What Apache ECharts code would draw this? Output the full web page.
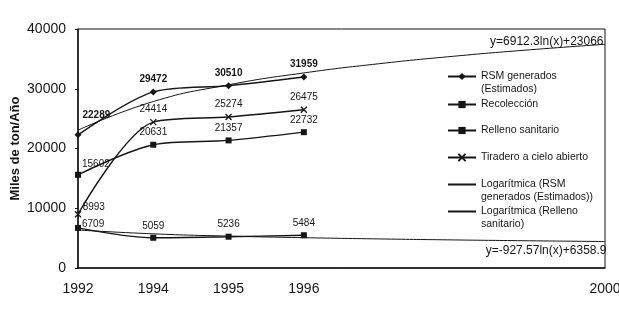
<!DOCTYPE html>
<html>
<head>
<meta charset="utf-8">
<script src="https://cdn.jsdelivr.net/npm/echarts@6/dist/echarts.min.js"></script>
<style>
html,body{margin:0;padding:0;background:#fff;}
#chart{width:619px;height:310px;}
</style>
</head>
<body>
<div id="chart"></div>
<script>
// ---- data ----
const xIndex = [1, 2, 3, 4];
const tickPos = [1, 2, 3, 4, 8];
const tickLabels = ['1992', '1994', '1995', '1996', '2000'];
const seriesNames = ['RSM generados (Estimados)', 'Recolección', 'Relleno sanitario', 'Tiradero a cielo abierto',
  'Logarítmica (RSM generados (Estimados))', 'Logarítmica (Relleno sanitario)'];
const legendLabels = ['RSM generados\n(Estimados)', 'Recolección', 'Relleno sanitario', 'Tiradero a cielo abierto',
  'Logarítmica (RSM\ngenerados (Estimados))', 'Logarítmica (Relleno\nsanitario)'];
const rsm = [22289, 29472, 30510, 31959];
const recoleccion = [15602, 20631, 21357, 22732];
const relleno = [6709, 5059, 5236, 5484];
const tiradero = [8993, 24414, 25274, 26475];
const trendX = [1, 2, 3, 4, 5, 6, 7, 8];
const trendRsm = [23066, 27857, 30660, 32648, 34191, 35451, 36517, 37440];
const trendRelleno = [6359, 5716, 5340, 5073, 4866, 4697, 4554, 4430];
const eqRsm = 'y=6912.3ln(x)+23066';
const eqRelleno = 'y=-927.57ln(x)+6358.9';

const FONT = '"Liberation Sans", Arial, sans-serif';
const INK = '#151515';

function pts(xs, ys, firstOffset) {
  return xs.map((x, i) => {
    const item = { value: [x, ys[i]] };
    if (i === 0) item.label = { position: 'right', distance: 1, offset: firstOffset };
    return item;
  });
}

function dataSeries(name, vals, symbol, size, firstOffset, bold) {
  return {
    name: name, type: 'line', smooth: 0.3,
    data: pts(xIndex, vals, firstOffset),
    symbol: symbol, symbolSize: size,
    lineStyle: { color: INK, width: 1.4 },
    itemStyle: { color: INK, borderColor: INK, borderWidth: symbol.startsWith('path') ? 1.3 : 0 },
    label: { show: true, position: 'top', distance: 4, color: INK, fontFamily: FONT, fontSize: 10,
      fontWeight: bold ? 'bold' : 'normal' },
    emphasis: { disabled: true }, z: 3
  };
}

function trendSeries(name, vals, eq, eqLabel) {
  const n = vals.length - 1;
  return {
    name: name, type: 'line', smooth: 0.5, symbol: 'none',
    data: trendX.map((x, i) => [x, vals[i]]),
    lineStyle: { color: INK, width: 1 },
    itemStyle: { color: INK },
    markPoint: {
      symbol: 'circle', symbolSize: 1, itemStyle: { color: 'rgba(0,0,0,0)' },
      label: Object.assign({ show: true, formatter: eq, color: INK, fontFamily: FONT, fontSize: 12, align: 'right' }, eqLabel),
      data: [{ coord: [trendX[n], vals[n]] }]
    },
    emphasis: { disabled: true }, z: 2
  };
}

const legendTops = [57, 98, 124, 151, 165, 192];
const legends = seriesNames.map((nm, i) => {
  const two = legendLabels[i].indexOf('\n') >= 0;
  const isTrend = i >= 4;
  const lg = {
    data: [nm], left: 447, top: legendTops[i], orient: 'vertical',
    itemWidth: 28, itemHeight: 9, selectedMode: false, padding: 0,
    formatter: () => (two ? '\n' : '') + legendLabels[i],
    textStyle: { color: INK, fontFamily: FONT, fontSize: 10.5, lineHeight: 13 }
  };
  if (isTrend) lg.itemStyle = { opacity: 0 };
  return lg;
});

const chart = echarts.init(document.getElementById('chart'), null, { renderer: 'canvas' });
chart.setOption({
  backgroundColor: '#fff',
  animation: false,
  grid: { left: 78, right: 14, top: 29, bottom: 42, outerBoundsMode: 'none', containLabel: false,
    show: true, borderColor: INK, borderWidth: 1 },
  xAxis: {
    type: 'value', min: 1, max: 8, interval: 1,
    axisLine: { show: true, lineStyle: { color: INK, width: 1.5 } },
    axisTick: { show: false },
    splitLine: { show: false },
    axisLabel: {
      color: INK, fontFamily: FONT, fontSize: 14, margin: 14, hideOverlap: false,
      formatter: v => { const k = tickPos.indexOf(v); return k >= 0 ? tickLabels[k] : ''; }
    }
  },
  yAxis: {
    type: 'value', min: 0, max: 40000, interval: 10000,
    name: 'Miles de ton/Año', nameLocation: 'middle', nameGap: 56, nameRotate: 90, nameMoveOverlap: false,
    nameTextStyle: { color: INK, fontFamily: FONT, fontSize: 13, fontWeight: 'bold' },
    axisLine: { show: true, lineStyle: { color: INK, width: 1.5 } },
    axisTick: { show: true, length: 3, lineStyle: { color: INK } },
    splitLine: { show: false },
    axisLabel: { color: INK, fontFamily: FONT, fontSize: 14, margin: 12, formatter: v => String(v) }
  },
  legend: legends,
  series: [
    dataSeries(seriesNames[0], rsm, 'diamond', 7, [0, -20], true),
    dataSeries(seriesNames[1], recoleccion, 'rect', 6, [0, -11], false),
    dataSeries(seriesNames[2], relleno, 'rect', 6, [0, -4], false),
    dataSeries(seriesNames[3], tiradero, 'path://M0,0L10,10M10,0L0,10', 6, [0, -7], false),
    trendSeries(seriesNames[4], trendRsm, eqRsm, { position: 'left', distance: 0, offset: [-1, -3] }),
    trendSeries(seriesNames[5], trendRelleno, eqRelleno, { position: 'left', distance: 0, offset: [2, 9] })
  ]
});
</script>
</body>
</html>
